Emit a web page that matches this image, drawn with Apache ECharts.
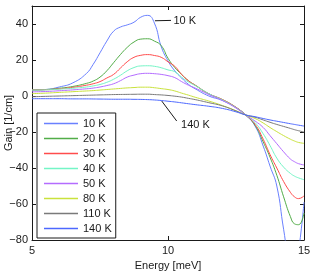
<!DOCTYPE html>
<html><head><meta charset="utf-8">
<script src="https://cdn.jsdelivr.net/npm/echarts@6/dist/echarts.min.js"></script>
<style>html,body{margin:0;padding:0;background:#fff}#c{width:312px;height:271px}</style>
</head><body><div id="c"></div>
<script>
const energy = [5, 5.5, 6, 6.5, 7, 7.25, 7.5, 7.75, 8, 8.25, 8.5, 8.75, 9, 9.25, 9.5, 9.75, 10, 10.25, 10.5, 10.75, 11, 11.5, 12, 12.5, 12.85, 13.2, 13.5, 13.75, 14, 14.25, 14.5, 14.65, 14.8, 15];
const temps = ['10 K', '20 K', '30 K', '40 K', '50 K', '80 K', '110 K', '140 K'];
const gain10 = [3.3, 3.6, 5.0, 7.3, 12.5, 17.6, 24.0, 30.5, 36.0, 38.3, 39.5, 41.0, 43.8, 44.8, 40.5, 27.5, 19.5, 14.0, 10.0, 6.5, 4.0, 0.0, -2.5, -6.5, -10.5, -16.7, -27.8, -38.9, -50, -74, -95, -96, -86, -59];
const gain20 = [3.4, 3.6, 4.3, 5.3, 7.0, 8.3, 10.5, 14.0, 18.5, 23.0, 27.0, 30.0, 31.6, 31.8, 30.5, 28.0, 21.0, 15.8, 12.0, 8.5, 6.0, 1.2, -2.0, -6.3, -10.5, -16.3, -25.5, -34.0, -44.0, -56.0, -67.0, -71.0, -71.5, -65.0];
const gain30 = [3.4, 3.5, 4.0, 4.8, 6.0, 6.8, 8.0, 10.0, 12.0, 15.5, 19.0, 21.5, 22.6, 23.0, 22.5, 21.5, 19.0, 16.5, 12.0, 8.5, 6.0, 1.3, -2.0, -6.3, -10.5, -15.7, -24.0, -32.5, -40.0, -47.5, -53.5, -56.0, -57.0, -55.5];
const gain40 = [3.3, 3.4, 3.8, 4.3, 5.0, 5.6, 6.4, 7.6, 9.3, 11.5, 14.0, 15.8, 16.7, 16.8, 16.5, 15.7, 14.5, 13.5, 10.5, 7.8, 5.8, 1.3, -2.2, -6.5, -10.5, -14.8, -21.0, -27.5, -34.5, -39.5, -43.0, -44.5, -45.5, -46.5];
const gain50 = [2.3, 2.5, 2.9, 3.4, 4.0, 4.4, 5.0, 5.8, 6.8, 8.5, 10.5, 11.6, 12.4, 12.6, 12.4, 12.0, 11.3, 10.2, 8.0, 6.0, 4.4, 0.8, -2.5, -6.7, -10.5, -13.9, -17.5, -22.0, -26.5, -31.0, -35.0, -36.5, -37.6, -38.3];
const gain80 = [1.3, 1.6, 2.0, 2.4, 2.8, 3.0, 3.3, 3.6, 3.9, 4.2, 4.5, 4.7, 4.9, 4.9, 4.6, 4.1, 3.6, 2.8, 1.6, 0.5, -0.7, -2.8, -5.3, -8.2, -10.5, -12.5, -15.0, -17.5, -19.8, -22.0, -24.0, -25.0, -25.8, -26.3];
const gain110 = [-0.4, -0.2, 0.0, 0.2, 0.4, 0.5, 0.6, 0.7, 0.8, 0.85, 0.9, 0.95, 1.0, 1.0, 0.8, 0.6, 0.3, -0.1, -0.6, -1.3, -2.0, -3.7, -5.5, -8.3, -10.5, -11.8, -13.3, -14.6, -15.8, -16.9, -18.0, -18.7, -19.3, -20.0];
const gain140 = [-1.5, -1.5, -1.5, -1.6, -1.6, -1.65, -1.7, -1.75, -1.8, -1.8, -1.8, -1.85, -1.9, -2.0, -2.2, -2.5, -2.9, -3.3, -3.8, -4.3, -4.8, -5.7, -6.9, -8.8, -10.5, -11.5, -12.5, -13.3, -14.0, -14.7, -15.4, -15.8, -16.2, -16.7];
const xTicks = [5, 10, 15];
const yTicks = [-80, -60, -40, -20, 0, 20, 40];

const allGain = [gain10, gain20, gain30, gain40, gain50, gain80, gain110, gain140];
const colors = ['#6a80ff', '#52ad48', '#ff4c4c', '#74f5c6', '#b46cff', '#c9e23c', '#7a7a7a', '#4d68ff'];
const FONT = 'Liberation Sans, Arial, sans-serif';
const ink = '#1a1a1a';

const series = temps.map((t, k) => ({
  name: t, type: 'line', smooth: true, symbol: 'none', showSymbol: false, clip: true,
  lineStyle: { width: 1, color: colors[k] }, itemStyle: { color: colors[k] },
  data: energy.map((e, i) => [e, allGain[k][i]]),
  z: 2 + k
}));
const noteLabel = { color: ink, fontSize: 11, fontFamily: FONT };
function annotate(s, from, to, text, textAt) {
  s.markLine = {
    silent: true, symbol: 'none', animation: false,
    lineStyle: { color: ink, width: 1, type: 'solid' },
    label: { show: false },
    data: [[{ coord: from }, { coord: to }]]
  };
  s.markPoint = {
    silent: true, animation: false, symbol: 'rect', symbolSize: 1,
    itemStyle: { color: 'rgba(0,0,0,0)' },
    label: Object.assign({ show: true, position: [0, 0], align: 'left', verticalAlign: 'middle', formatter: text }, noteLabel),
    data: [{ coord: textAt }]
  };
}
annotate(series[0], [9.52, 41.8], [10.11, 42], '10 K', [10.22, 41.2]);
annotate(series[7], [9.77, -2.8], [10.32, -13.9], '140 K', [10.5, -16.2]);

const fmtNum = v => (v < 0 ? '\u2212' + Math.abs(v) : String(v));
const axisCommon = {
  axisLine: { show: true, onZero: false, lineStyle: { color: ink, width: 1 } },
  axisTick: { show: true, inside: true, length: 4, lineStyle: { color: ink } },
  splitLine: { show: false }
};

const chart = echarts.init(document.getElementById('c'), null, { renderer: 'canvas' });
chart.setOption({
  animation: false,
  backgroundColor: '#fff',
  textStyle: { fontFamily: FONT },
  grid: { left: 32, right: 8, top: 6, bottom: 31, containLabel: false, outerBoundsMode: 'none' },
  xAxis: [
    Object.assign({}, axisCommon, {
      type: 'value', min: xTicks[0], max: xTicks[xTicks.length - 1], interval: xTicks[1] - xTicks[0],
      position: 'bottom',
      name: 'Energy [meV]', nameLocation: 'middle', nameGap: 19,
      nameTextStyle: { color: ink, fontSize: 11, fontFamily: FONT },
      axisLabel: { color: ink, fontSize: 11, fontFamily: FONT, margin: 5, formatter: fmtNum }
    }),
    Object.assign({}, axisCommon, {
      type: 'value', min: xTicks[0], max: xTicks[xTicks.length - 1], interval: xTicks[1] - xTicks[0],
      position: 'top', axisLabel: { show: false }
    })
  ],
  yAxis: [
    Object.assign({}, axisCommon, {
      type: 'value', min: yTicks[0], max: 50, interval: yTicks[1] - yTicks[0],
      position: 'left',
      name: 'Gain [1/cm]', nameLocation: 'middle', nameGap: 18, nameRotate: 90, nameMoveOverlap: false,
      nameTextStyle: { color: ink, fontSize: 11, fontFamily: FONT },
      axisLabel: { color: ink, fontSize: 11, fontFamily: FONT, margin: 4, showMaxLabel: false, hideOverlap: false,
        formatter: v => fmtNum(v) }
    }),
    Object.assign({}, axisCommon, {
      type: 'value', min: yTicks[0], max: 50, interval: yTicks[1] - yTicks[0],
      position: 'right', axisLabel: { show: false }
    })
  ],
  legend: {
    show: true, orient: 'vertical', left: 37, top: 113,
    data: temps.map(t => ({ name: t, icon: 'rect' })),
    itemWidth: 34, itemHeight: 1.5, itemGap: 0,
    padding: [3, 4, 2, 7],
    backgroundColor: '#fff', borderColor: ink, borderWidth: 1, borderRadius: 0,
    textStyle: { color: ink, fontSize: 11, fontFamily: FONT, lineHeight: 15 },
    selectedMode: false
  },
  series: series
});
</script>
</body></html>
